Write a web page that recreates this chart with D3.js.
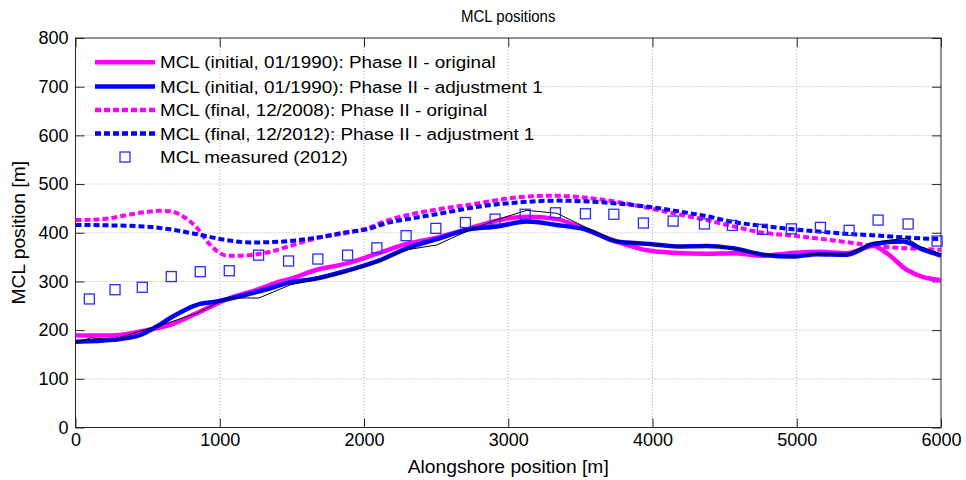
<!DOCTYPE html>
<html><head><meta charset="utf-8">
<script src="https://cdn.jsdelivr.net/npm/d3@7"></script>
<style>
body{margin:0;background:#fff;}
text{font-family:"Liberation Sans",Arial,sans-serif;fill:#000;}
</style></head>
<body><svg id="chart" width="966" height="480"></svg>
<script>
// ---- data ----
const xTicks = [0,1000,2000,3000,4000,5000,6000];
const yTicks = [0,100,200,300,400,500,600,700,800];

const initOrigX = [0,250,495,657,842,1073,1258,1419,1489,1650,1881,2089,2297,2505,2713,2921,3129,3337,3545,3752,3983,4145,4376,4560,4769,4953,5161,5346,5531,5624,5762,5877,6000];
const initOrigY = [189,189,200,211,235,266,283,300,305,322,337,357,377,390,407,425,433,428,406,382,363,359,357,358,353,358,361,358,373,358,324,309,303];

const initAdjX = [0,264,449,560,657,842,981,1119,1350,1489,1650,1881,2089,2297,2505,2713,2921,3129,3337,3545,3752,3983,4168,4376,4560,4769,4976,5138,5346,5531,5739,5854,6000];
const initAdjY = [176,180,190,207,225,252,259,268,286,298,305,322,341,368,387,406,413,423,416,406,382,377,372,373,368,355,351,356,355,377,382,368,353];

const measInitX = [0,103,262,495,634,842,1050,1272,1489,1650,1881,2089,2297,2505,2713,2921,3129,3337,3545,3752,3983,4168,4376,4560,4769,4976,5138,5346,5531,5762,5854,6000];
const measInitY = [174,184,181,202,214,235,266,266,293,303,320,340,365,375,403,427,446,440,410,383,377,372,375,368,355,352,356,356,380,389,372,356];

const finalOrigX = [0,195,333,472,588,657,749,842,934,1050,1142,1350,1489,1650,1881,2020,2159,2343,2574,2805,2944,3105,3337,3568,3799,4030,4261,4376,4560,4769,4976,5207,5392,5577,5762,6000];
const finalOrigY = [426,428,435,442,445,444,433,410,375,353,353,361,373,387,400,409,425,439,451,461,468,474,476,471,461,447,433,426,413,400,394,386,379,372,368,365];

const finalAdjX = [0,264,472,657,842,1026,1211,1442,1650,1881,2020,2159,2343,2574,2805,2944,3105,3337,3568,3799,4030,4261,4376,4560,4769,4976,5207,5392,5577,5762,6000];
const finalAdjY = [416,415,413,407,397,386,380,382,389,401,407,420,430,442,454,459,463,466,464,459,451,440,434,422,414,407,401,397,394,390,387];

const measuredX = [96,274,463,664,865,1066,1269,1477,1680,1886,2089,2292,2498,2703,2909,3117,3327,3535,3732,3937,4143,4360,4554,4762,4963,5164,5363,5564,5772,5973];
const measuredY = [264,283,288,310,320,322,354,342,346,354,369,394,409,421,428,438,441,439,438,420,424,418,415,407,408,411,405,426,418,383];

const legendLabels = [
  "MCL (initial, 01/1990): Phase II - original",
  "MCL (initial, 01/1990): Phase II - adjustment 1",
  "MCL (final, 12/2008): Phase II - original",
  "MCL (final, 12/2012): Phase II - adjustment 1",
  "MCL measured (2012)"
];

// ---- layout ----
const svg = d3.select("#chart");
const L = 75.5, R = 941, T = 38, B = 427.5;
const x = d3.scaleLinear().domain([0,6000]).range([L,R]);
const y = d3.scaleLinear().domain([0,800]).range([B,T]);

// grid
const grid = svg.append("g");
xTicks.slice(1,-1).forEach(t=>{
  grid.append("line").attr("x1",x(t)).attr("x2",x(t)).attr("y1",T).attr("y2",B)
    .attr("stroke","#b0b0b0").attr("stroke-width",1).attr("stroke-dasharray","1,2");
});
yTicks.slice(1,-1).forEach(t=>{
  grid.append("line").attr("x1",L).attr("x2",R).attr("y1",y(t)).attr("y2",y(t))
    .attr("stroke","#b0b0b0").attr("stroke-width",1).attr("stroke-dasharray","1,2");
});

// axes
const tickLen = 9;
const axB = svg.append("g").attr("transform",`translate(0,${B})`)
  .call(d3.axisBottom(x).tickValues(xTicks).tickFormat(d3.format("d")).tickSizeInner(-tickLen).tickSizeOuter(0).tickPadding(6));
const axT = svg.append("g").attr("transform",`translate(0,${T})`)
  .call(d3.axisTop(x).tickValues(xTicks).tickFormat("").tickSizeInner(-tickLen).tickSizeOuter(0));
const axL = svg.append("g").attr("transform",`translate(${L},0)`)
  .call(d3.axisLeft(y).tickValues(yTicks).tickFormat(d3.format("d")).tickSizeInner(-tickLen).tickSizeOuter(0).tickPadding(7));
const axR = svg.append("g").attr("transform",`translate(${R},0)`)
  .call(d3.axisRight(y).tickValues(yTicks).tickFormat("").tickSizeInner(-tickLen).tickSizeOuter(0));
[axB,axT,axL,axR].forEach(a=>{
  a.select(".domain").remove();
  a.selectAll("line").attr("stroke","#262626");
  a.selectAll("text").attr("font-size",18).attr("font-family","Liberation Sans, Arial, sans-serif").attr("fill","#000");
});
svg.append("rect").attr("x",L).attr("y",T).attr("width",R-L).attr("height",B-T)
  .attr("fill","none").attr("stroke","#262626").attr("stroke-width",1);

// lines
const plot = svg.append("g");
function pts(xs,ys){return xs.map((v,i)=>[v,ys[i]]);}
const lineSmooth = d3.line().x(d=>x(d[0])).y(d=>y(d[1])).curve(d3.curveMonotoneX);
const lineLin = d3.line().x(d=>x(d[0])).y(d=>y(d[1]));

plot.append("path").attr("d",lineSmooth(pts(finalOrigX,finalOrigY)))
  .attr("fill","none").attr("stroke","#ff00ff").attr("stroke-width",4).attr("stroke-dasharray","6,3");
plot.append("path").attr("d",lineSmooth(pts(finalAdjX,finalAdjY)))
  .attr("fill","none").attr("stroke","#0000ff").attr("stroke-width",4).attr("stroke-dasharray","6,3");
plot.append("path").attr("d",lineSmooth(pts(initOrigX,initOrigY)))
  .attr("fill","none").attr("stroke","#ff00ff").attr("stroke-width",4.5).attr("stroke-linejoin","round");
plot.append("path").attr("d",lineSmooth(pts(initAdjX,initAdjY)))
  .attr("fill","none").attr("stroke","#0000ff").attr("stroke-width",4.5).attr("stroke-linejoin","round");
plot.append("path").attr("d",lineLin(pts(measInitX,measInitY)))
  .attr("fill","none").attr("stroke","#000").attr("stroke-width",1);

const sq = 10;
plot.selectAll("rect.m").data(pts(measuredX,measuredY)).enter().append("rect")
  .attr("x",d=>x(d[0])-sq/2).attr("y",d=>y(d[1])-sq/2).attr("width",sq).attr("height",sq)
  .attr("fill","none").attr("stroke","#2a2aff").attr("stroke-width",1.3);

// legend
const lg = svg.append("g");
const rowY = [62.3,86.5,110,133.5,157];
const styles = [
  {c:"#ff00ff",dash:null},{c:"#0000ff",dash:null},{c:"#ff00ff",dash:"6,3"},{c:"#0000ff",dash:"6,3"},{sq:true}
];
legendLabels.forEach((lab,i)=>{
  const s = styles[i];
  if(s.sq){
    lg.append("rect").attr("x",125-sq/2).attr("y",rowY[i]-sq/2).attr("width",sq).attr("height",sq)
      .attr("fill","none").attr("stroke","#2a2aff").attr("stroke-width",1.3);
  } else {
    lg.append("line").attr("x1",95).attr("x2",155).attr("y1",rowY[i]).attr("y2",rowY[i])
      .attr("stroke",s.c).attr("stroke-width",4.5).attr("stroke-dasharray",s.dash);
  }
  lg.append("text").attr("transform",`translate(160,${rowY[i]}) scale(1.11,1)`).attr("dy","0.36em")
    .attr("font-size",17).text(lab);
});

// titles
svg.append("text").attr("transform",`translate(${(L+R)/2},22) scale(1,1.1)`).attr("text-anchor","middle")
  .attr("font-size",15).text("MCL positions");
svg.append("text").attr("transform",`translate(${(L+R)/2},473) scale(1.1,1.05)`).attr("text-anchor","middle")
  .attr("font-size",17.5).text("Alongshore position [m]");
svg.append("text").attr("transform",`translate(25,${(T+B)/2}) rotate(-90) scale(1.1,1.05)`).attr("text-anchor","middle")
  .attr("font-size",17.5).text("MCL position [m]");
</script></body></html>
